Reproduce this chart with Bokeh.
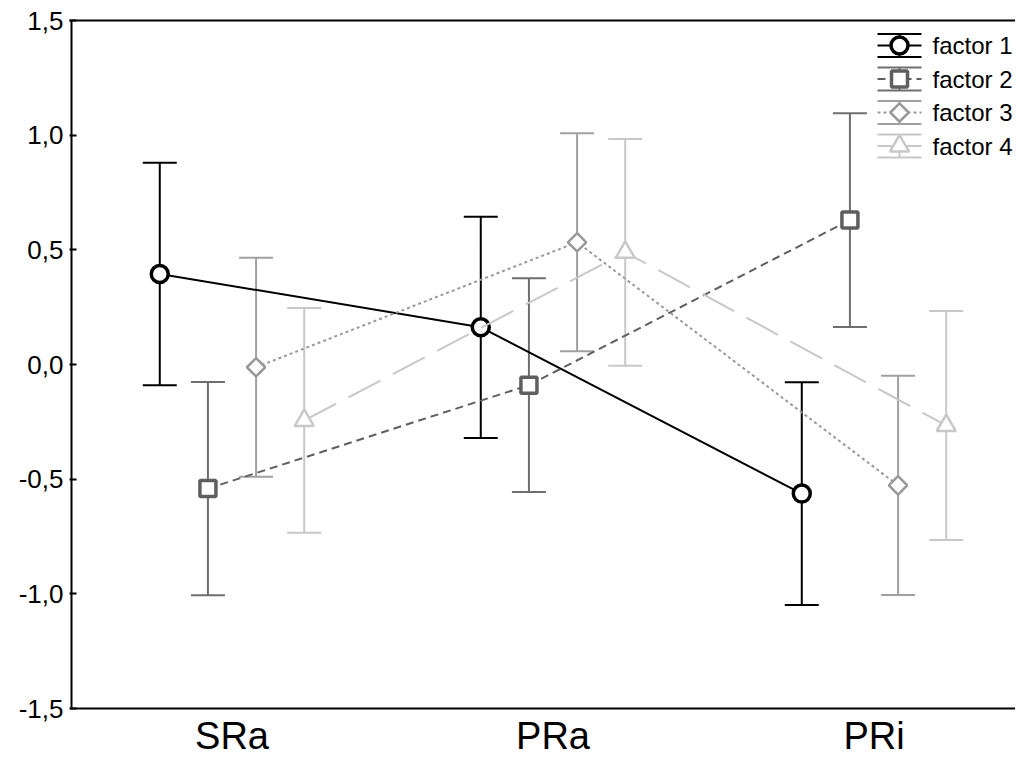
import math
from bokeh.plotting import figure
from bokeh.models import (Range1d, FixedTicker, LinearAxis, Whisker, TeeHead,
                          ColumnDataSource)
from bokeh.core.properties import value
from bokeh.embed import file_html
from bokeh.resources import INLINE

# ---------------- data ----------------
categories = ["SRa", "PRa", "PRi"]
factor_names = ["factor 1", "factor 2", "factor 3", "factor 4"]

f1_mean = [0.395, 0.162, -0.563]
f2_mean = [-0.541, -0.090, 0.630]
f3_mean = [-0.012, 0.533, -0.527]
f4_mean = [-0.244, 0.489, -0.266]

f1_err = [0.485, 0.482, 0.486]
f2_err = [0.465, 0.466, 0.466]
f3_err = [0.478, 0.475, 0.478]
f4_err = [0.490, 0.494, 0.499]

y_ticks = [-1.5, -1.0, -0.5, 0.0, 0.5, 1.0, 1.5]
y_tick_labels = ["-1,5", "-1,0", "-0,5", "0,0", "0,5", "1,0", "1,5"]
y_lo, y_hi = -1.5, 1.5

# ---------------- styles ----------------
FONT = "Liberation Sans"
styles = [
    dict(marker="circle", mcolor="#000000", ecolor="#000000", lcolor="#000000",
         dash="solid", size=17, mlw=3.5, angle=0.0),
    dict(marker="square", mcolor="#5f5f5f", ecolor="#6e6e6e", lcolor="#5f5f5f",
         dash="8 5", size=16, mlw=3.5, angle=0.0),
    dict(marker="square", mcolor="#999999", ecolor="#a0a0a0", lcolor="#999999",
         dash="3 3", size=13, mlw=2.5, angle=math.pi / 4),
    dict(marker="triangle", mcolor="#c8c8c8", ecolor="#c8c8c8", lcolor="#c8c8c8",
         dash="36 14", size=19, mlw=2.5, angle=0.0),
]
means = [f1_mean, f2_mean, f3_mean, f4_mean]
errs = [f1_err, f2_err, f3_err, f4_err]

# ---------------- layout (pixels) ----------------
W, H = 1015, 758
AX_L, AX_T, AX_B = 71, 20, 708     # visible axes box: left / top / bottom
FL = 69                            # frame starts 2px left of the axis line
PX_X = 321                         # pixels per category
PX_Y = (AX_B - AX_T) / (y_hi - y_lo)
OFFSET = 0.15                      # spacing between factors within a category
X0 = -0.5 - (AX_L - FL) / PX_X
X1 = X0 + (W - FL) / PX_X
Y1 = y_hi
Y0 = y_hi - (H - AX_T) / PX_Y

def px2x(px):
    return X0 + (px - FL) / PX_X

def px2y(py):
    return Y1 - (py - AX_T) / PX_Y

p = figure(width=W, height=H, output_backend="svg", toolbar_location=None,
           x_range=Range1d(X0, X1), y_range=Range1d(Y0, Y1),
           x_axis_location=None,
           min_border_left=FL, min_border_right=0, min_border_top=AX_T,
           min_border_bottom=0)
p.outline_line_color = None
p.grid.visible = False
p.background_fill_color = "white"
p.border_fill_color = "white"

# y axis: ticks + labels only, line drawn separately
p.yaxis.ticker = FixedTicker(ticks=y_ticks)
p.yaxis.major_label_overrides = {t: l for t, l in zip(y_ticks, y_tick_labels)}
p.yaxis.major_tick_in = 7
p.yaxis.major_tick_out = 0
p.yaxis.minor_tick_line_color = None
p.yaxis.axis_line_color = None
p.yaxis.major_tick_line_width = 2
p.yaxis.major_label_text_font = FONT
p.yaxis.major_label_text_font_size = "26px"
p.yaxis.major_label_text_color = "black"
p.yaxis.major_label_standoff = 6

top_axis = LinearAxis(major_tick_in=0, major_tick_out=0, minor_tick_line_color=None,
                      major_label_text_font_size="0px", major_label_standoff=0,
                      axis_line_width=2, ticker=FixedTicker(ticks=[]))
p.add_layout(top_axis, "above")

# left and bottom axis lines
p.segment(px2x(AX_L), y_lo, px2x(AX_L), y_hi, line_color="black", line_width=2)
p.segment(px2x(AX_L - 1), y_lo, X1, y_lo, line_color="black", line_width=2)

# category labels under the bottom axis (kept fully inside the canvas)
p.text(x=list(range(len(categories))), y=[px2y(735)] * len(categories),
       text=categories, text_font=value(FONT), text_font_size="38px",
       text_color="black", text_align="center", text_baseline="middle")

# ---------------- series ----------------
for k, (m, e, st) in enumerate(zip(means, errs, styles)):
    xs = [g + (k - 1.5) * OFFSET for g in range(len(categories))]
    src = ColumnDataSource(dict(x=xs, y=m,
                                lo=[a - b for a, b in zip(m, e)],
                                hi=[a + b for a, b in zip(m, e)]))
    w = Whisker(source=src, base="x", upper="hi", lower="lo", dimension="height",
                line_color=st["ecolor"], line_width=2,
                upper_head=TeeHead(size=34, line_color=st["ecolor"], line_width=2),
                lower_head=TeeHead(size=34, line_color=st["ecolor"], line_width=2),
                level="underlay")
    p.add_layout(w)
    p.line("x", "y", source=src, line_color=st["lcolor"], line_width=2,
           line_dash=st["dash"])
    p.scatter("x", "y", source=src, marker=st["marker"], size=st["size"],
              angle=st["angle"], fill_color="white", line_color=st["mcolor"],
              line_width=st["mlw"])

# ---------------- legend (drawn manually) ----------------
row0, row_step = 45, 33.5
sym_l, sym_c, sym_r = 877, 899, 921
cap = 11.5
for k, st in enumerate(styles):
    cy = row0 + row_step * k
    for dy in (-cap, cap):
        p.segment(px2x(sym_l), px2y(cy + dy), px2x(sym_r), px2y(cy + dy),
                  line_color=st["ecolor"], line_width=2)
    p.segment(px2x(sym_c), px2y(cy - cap), px2x(sym_c), px2y(cy + cap),
              line_color=st["ecolor"], line_width=2)
    p.segment(px2x(sym_l), px2y(cy), px2x(sym_r), px2y(cy),
              line_color=st["lcolor"], line_width=2,
              line_dash=st["dash"] if k < 3 else "solid")
    p.scatter([px2x(sym_c)], [px2y(cy)], marker=st["marker"], size=st["size"],
              angle=st["angle"], fill_color="white", line_color=st["mcolor"],
              line_width=st["mlw"])
    p.text([px2x(932)], [px2y(cy)], text=[factor_names[k]],
           text_font=value(FONT), text_font_size="24px", text_color="black",
           text_baseline="middle", text_align="left")

open("out.html", "w").write(file_html(p, INLINE))
